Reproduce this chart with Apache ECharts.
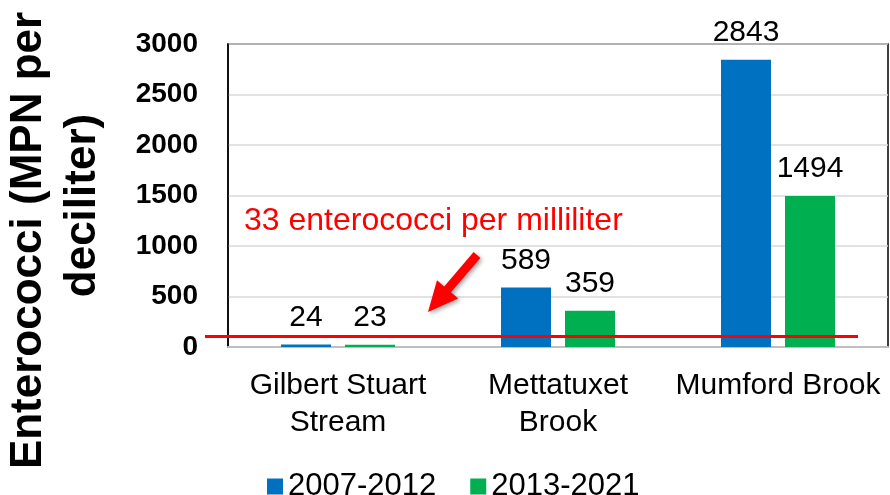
<!DOCTYPE html>
<html>
<head>
<meta charset="utf-8">
<script src="https://cdn.jsdelivr.net/npm/echarts@6/dist/echarts.min.js"></script>
<style>
html, body { margin: 0; padding: 0; background: #fff; }
#chart { width: 890px; height: 495px; }
</style>
</head>
<body>
<div id="chart"></div>
<script>
// data
var sites = ['Gilbert Stuart\nStream', 'Mettatuxet\nBrook', 'Mumford Brook'];
var periods = ['2007-2012', '2013-2021'];
var early = [24, 589, 2843];
var late = [23, 359, 1494];
var yMin = 0, yMax = 3000, yStep = 500;
// standard line (per deciliter), drawn across its own wider grid
var limit = 104;

var blue = '#0070C0';
var green = '#00B050';
var red = '#FF0000';
var font = 'Liberation Sans, Arial, sans-serif';

var myChart = echarts.init(document.getElementById('chart'));
myChart.setOption({
    animation: false,
    textStyle: { fontFamily: font },
    grid: [{
        left: 228,
        right: 2,
        top: 44,
        bottom: 148,
        outerBoundsMode: 'none',
        show: true,
        borderColor: '#000',
        borderWidth: 1.5,
        backgroundColor: 'transparent'
    }, {
        // the red line runs a bit past the left axis, so it gets its own grid
        left: 205,
        right: 32,
        top: 44,
        bottom: 148,
        outerBoundsMode: 'none'
    }],
    legend: {
        top: 466,
        left: 262,
        itemWidth: 16,
        itemHeight: 16,
        itemGap: 34,
        icon: 'rect',
        textStyle: { fontSize: 31, color: '#000', fontFamily: font },
        data: periods
    },
    xAxis: [{
        type: 'category',
        data: sites,
        axisLine: { lineStyle: { color: '#bfbfbf', width: 2 } },
        axisTick: { show: false },
        axisLabel: {
            interval: 0,
            margin: 20,
            fontSize: 30,
            lineHeight: 37,
            color: '#000'
        }
    }, {
        gridIndex: 1,
        type: 'value',
        min: 0,
        max: 1,
        show: false
    }],
    yAxis: [{
        type: 'value',
        min: yMin,
        max: yMax,
        interval: yStep,
        name: '{a|Enterococci (MPN per}\n{b|deciliter)}',
        nameLocation: 'middle',
        nameGap: 118,
        nameTextStyle: {
            fontSize: 44,
            fontWeight: 'bold',
            color: '#000',
            lineHeight: 54,
            rich: {
                a: { fontSize: 44, fontWeight: 'bold', color: '#000', lineHeight: 54, padding: [0, 90, 0, 0] },
                b: { fontSize: 44, fontWeight: 'bold', color: '#000', lineHeight: 54, padding: [0, 20, 0, 0] }
            }
        },
        axisLine: { show: true, lineStyle: { color: '#000', width: 1.5 } },
        axisTick: { show: false },
        axisLabel: {
            margin: 30,
            fontSize: 28,
            fontWeight: 'bold',
            color: '#000',
            showMinLabel: true,
            showMaxLabel: true,
            hideOverlap: false,
            formatter: function (v) { return String(v); }
        },
        splitLine: { lineStyle: { color: '#d9d9d9', width: 1.5 } }
    }, {
        gridIndex: 1,
        type: 'value',
        min: yMin,
        max: yMax,
        show: false
    }],
    series: [{
        name: periods[0],
        type: 'bar',
        data: early,
        barWidth: 50,
        barGap: '28%',
        itemStyle: { color: blue },
        label: { show: true, position: 'top', distance: 12, fontSize: 30, color: '#000' }
    }, {
        name: periods[1],
        type: 'bar',
        data: late,
        barWidth: 50,
        itemStyle: { color: green },
        label: { show: true, position: 'top', distance: 12, fontSize: 30, color: '#000' }
    }, {
        name: 'limit',
        type: 'line',
        xAxisIndex: 1,
        yAxisIndex: 1,
        data: [[0, limit], [1, limit]],
        symbol: 'none',
        silent: true,
        z: 5,
        lineStyle: { color: red, width: 3 }
    }],
    graphic: [{
        type: 'text',
        left: 244,
        top: 205,
        style: {
            text: '33 enterococci per milliliter',
            fill: red,
            fontSize: 32,
            fontFamily: font
        }
    }, {
        type: 'polygon',
        z: 10,
        shape: {
            points: [[473.6, 252.1], [480.4, 257.9], [451.0, 292.2], [458.2, 298.4],
                     [428, 312], [437.0, 280.2], [444.2, 286.4]]
        },
        style: {
            fill: red,
            shadowBlur: 4,
            shadowOffsetX: 2,
            shadowOffsetY: 2,
            shadowColor: 'rgba(0,0,0,0.35)'
        }
    }]
});
</script>
</body>
</html>
